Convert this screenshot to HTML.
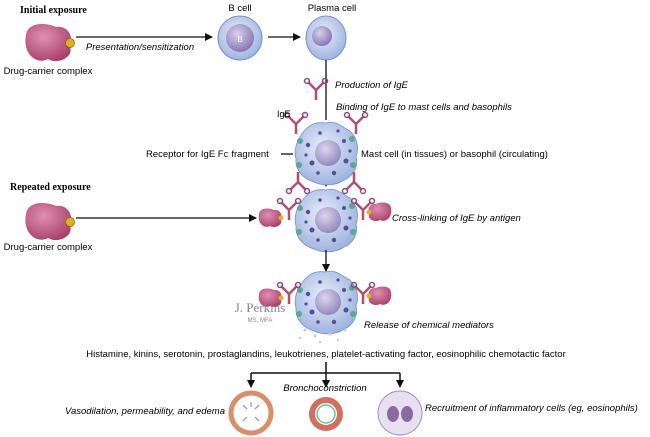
<!DOCTYPE html>
<html><head><meta charset="utf-8"><style>
html,body{margin:0;padding:0;background:#fff;}
svg{display:block;font-family:"Liberation Sans",sans-serif;}
</style></head><body>
<svg width="650" height="437" viewBox="0 0 650 437" xmlns="http://www.w3.org/2000/svg">
<defs>
<marker id="ah" markerWidth="8" markerHeight="8" refX="7" refY="4" orient="auto" markerUnits="userSpaceOnUse"><path d="M0,0 L8,4 L0,8 z" fill="#111"/></marker>
<radialGradient id="cell" cx="45%" cy="40%" r="60%"><stop offset="0" stop-color="#e8eefa"/><stop offset="1" stop-color="#9fb4e0"/></radialGradient>
<radialGradient id="nuc" cx="40%" cy="35%" r="65%"><stop offset="0" stop-color="#d9d0ea"/><stop offset="1" stop-color="#8a78b4"/></radialGradient>
<radialGradient id="blob" cx="40%" cy="35%" r="70%"><stop offset="0" stop-color="#e090b0"/><stop offset="1" stop-color="#a8406c"/></radialGradient>
<g id="drug"><path d="M-22,-8 C-20,-22 0,-20 8,-16 C20,-18 26,-6 22,4 C26,14 10,22 0,16 C-10,22 -26,12 -22,-8z" fill="url(#blob)"/><circle cx="22" cy="0" r="4.5" fill="#e0b020" stroke="#8a6a10" stroke-width="0.8"/></g>
<g id="drugS"><path d="M-11,-4 C-10,-11 0,-10 4,-8 C10,-9 13,-3 11,2 C13,7 5,11 0,8 C-5,11 -13,6 -11,-4z" fill="url(#blob)"/><circle cx="11" cy="0" r="2.5" fill="#e0b020"/></g>
<g id="drugSL"><path d="M11,-4 C10,-11 0,-10 -4,-8 C-10,-9 -13,-3 -11,2 C-13,7 -5,11 0,8 C5,11 13,6 11,-4z" fill="url(#blob)"/><circle cx="-11" cy="0" r="2.5" fill="#e0b020"/></g>
<g id="ige" stroke="#b05070" stroke-width="2.5" fill="none"><path d="M0,0 L-8,-8 M0,0 L8,-8 M0,0 L0,10"/><circle cx="-9" cy="-9" r="2.5" stroke="#8a4a8a" stroke-width="1.5"/><circle cx="9" cy="-9" r="2.5" stroke="#8a4a8a" stroke-width="1.5"/></g>
<g id="mast"><path d="M0,-30 C10,-33 16,-26 24,-22 C32,-14 33,-4 30,4 C33,14 26,24 18,27 C10,33 -4,33 -12,29 C-22,26 -31,18 -30,6 C-33,-4 -28,-16 -20,-24 C-14,-30 -8,-31 0,-30z" fill="url(#cell)" stroke="#7890c8" stroke-width="0.8"/>
<circle cx="2" cy="0" r="13" fill="url(#nuc)" opacity="0.8"/>
<g fill="#5a4a9a"><circle cx="-18" cy="-8" r="2.2"/><circle cx="-14" cy="10" r="2.5"/><circle cx="18" cy="-12" r="2"/><circle cx="20" cy="8" r="2.5"/><circle cx="-6" cy="-20" r="1.8"/><circle cx="8" cy="20" r="2.2"/><circle cx="-20" cy="2" r="1.6"/><circle cx="12" cy="-22" r="1.6"/><circle cx="-8" cy="20" r="1.8"/><circle cx="24" cy="-2" r="1.6"/></g>
<g fill="#5aa890"><circle cx="-26" cy="-12" r="3"/><circle cx="-27" cy="12" r="3"/><circle cx="26" cy="-14" r="3"/><circle cx="27" cy="12" r="3"/></g></g>
</defs>

<text x="20" y="13" font-size="10" font-weight="bold" font-family="Liberation Serif,serif">Initial exposure</text>
<use href="#drug" x="48" y="43"/>
<text x="48" y="74" font-size="9.5" text-anchor="middle">Drug-carrier complex</text>
<line x1="76" y1="37" x2="212" y2="37" stroke="#111" stroke-width="1.3" marker-end="url(#ah)"/>
<text x="140" y="50" font-size="9.5" font-style="italic" text-anchor="middle">Presentation/sensitization</text>

<text x="240" y="11" font-size="9.5" text-anchor="middle">B cell</text>
<circle cx="240" cy="38" r="22" fill="url(#cell)" stroke="#7890c8"/>
<circle cx="240" cy="38" r="14" fill="url(#nuc)"/>
<text x="240" y="42" font-size="8" fill="#fff" text-anchor="middle">B</text>
<line x1="268" y1="37" x2="300" y2="37" stroke="#111" stroke-width="1.3" marker-end="url(#ah)"/>
<text x="332" y="11" font-size="9.5" text-anchor="middle">Plasma cell</text>
<ellipse cx="326" cy="38" rx="20" ry="22" fill="url(#cell)" stroke="#7890c8"/>
<circle cx="322" cy="36" r="10" fill="url(#nuc)"/>

<line x1="326" y1="60" x2="326" y2="120" stroke="#111" stroke-width="1.3"/>
<line x1="326" y1="180" x2="326" y2="186" stroke="#111" stroke-width="1.3" marker-end="url(#ah)"/>
<use href="#ige" x="316" y="90"/>
<text x="335" y="88" font-size="9.5" font-style="italic">Production of IgE</text>
<text x="336" y="110" font-size="9.5" font-style="italic">Binding of IgE to mast cells and basophils</text>

<use href="#mast" x="326" y="153"/>
<use href="#ige" x="296" y="124"/>
<use href="#ige" x="356" y="124"/>
<use href="#ige" x="298" y="182" transform="rotate(180 298 182)"/>
<use href="#ige" x="354" y="182" transform="rotate(180 354 182)"/>
<text x="277" y="117" font-size="9">IgE</text>
<text x="146" y="157" font-size="9.5">Receptor for IgE F<tspan font-size="7">C</tspan> fragment</text>
<line x1="281" y1="154" x2="293" y2="154" stroke="#111" stroke-width="1.3"/>
<text x="361" y="157" font-size="9.5">Mast cell (in tissues) or basophil (circulating)</text>

<text x="10" y="190" font-size="10" font-weight="bold" font-family="Liberation Serif,serif">Repeated exposure</text>
<use href="#drug" x="48" y="222"/>
<text x="48" y="250" font-size="9.5" text-anchor="middle">Drug-carrier complex</text>
<line x1="76" y1="218" x2="256" y2="218" stroke="#111" stroke-width="1.3" marker-end="url(#ah)"/>
<use href="#mast" x="326" y="220"/>
<use href="#drugS" x="270" y="218"/>
<use href="#drugSL" x="380" y="212"/>
<use href="#ige" x="289" y="210"/><use href="#ige" x="363" y="210"/>
<text x="392" y="221" font-size="9.5" font-style="italic">Cross-linking of IgE by antigen</text>
<line x1="326" y1="250" x2="326" y2="271" stroke="#111" stroke-width="1.3" marker-end="url(#ah)"/>

<use href="#mast" x="326" y="302"/>
<use href="#drugS" x="270" y="298"/>
<use href="#drugSL" x="380" y="296"/>
<use href="#ige" x="289" y="294"/><use href="#ige" x="363" y="294"/>
<g fill="#c8c8d8"><circle cx="305" cy="330" r="1.5"/><circle cx="315" cy="336" r="1.5"/><circle cx="330" cy="334" r="1.5"/><circle cx="345" cy="330" r="1.5"/><circle cx="320" cy="342" r="1.2"/><circle cx="338" cy="340" r="1.2"/><circle cx="300" cy="338" r="1.2"/></g>
<text x="260" y="312" font-size="13" fill="#888" text-anchor="middle" font-family="Liberation Serif,serif">J. Perkins</text>
<text x="260" y="322" font-size="6" fill="#888" text-anchor="middle">MS, MFA</text>
<text x="364" y="328" font-size="9.5" font-style="italic">Release of chemical mediators</text>

<text x="326" y="357" font-size="9.5" text-anchor="middle">Histamine, kinins, serotonin, prostaglandins, leukotrienes, platelet-activating factor, eosinophilic chemotactic factor</text>
<g stroke="#111" stroke-width="1.5" fill="none"><path d="M326,362 V373 M251,373 H400"/></g>
<line x1="251" y1="373" x2="251" y2="387" stroke="#111" stroke-width="1.5" marker-end="url(#ah)"/>
<line x1="326" y1="373" x2="326" y2="387" stroke="#111" stroke-width="1.5" marker-end="url(#ah)"/>
<line x1="400" y1="373" x2="400" y2="387" stroke="#111" stroke-width="1.5" marker-end="url(#ah)"/>
<text x="325" y="391" font-size="9.5" font-style="italic" text-anchor="middle">Bronchoconstriction</text>

<circle cx="251" cy="413" r="20" fill="#fff" stroke="#d8906c" stroke-width="5"/>
<g stroke="#8090d0" stroke-width="1.2"><line x1="243" y1="405" x2="247" y2="409"/><line x1="259" y1="405" x2="255" y2="409"/><line x1="243" y1="421" x2="247" y2="417"/><line x1="259" y1="421" x2="255" y2="417"/><line x1="251" y1="402" x2="251" y2="407"/></g>
<circle cx="326" cy="414" r="14" fill="#fff" stroke="#d07060" stroke-width="6"/>
<circle cx="326" cy="414" r="9" fill="none" stroke="#70c0a0" stroke-width="1.5"/>
<circle cx="400" cy="413" r="22" fill="#e8e0f0" stroke="#a090c0"/>
<ellipse cx="393" cy="414" rx="6" ry="8" fill="#8a6aa0"/><ellipse cx="407" cy="414" rx="6" ry="8" fill="#8a6aa0"/>
<text x="225" y="414" font-size="9.5" font-style="italic" text-anchor="end">Vasodilation, permeability, and edema</text>
<text x="425" y="411" font-size="9.5" font-style="italic">Recruitment of inflammatory cells (eg, eosinophils)</text>
</svg>
</body></html>
